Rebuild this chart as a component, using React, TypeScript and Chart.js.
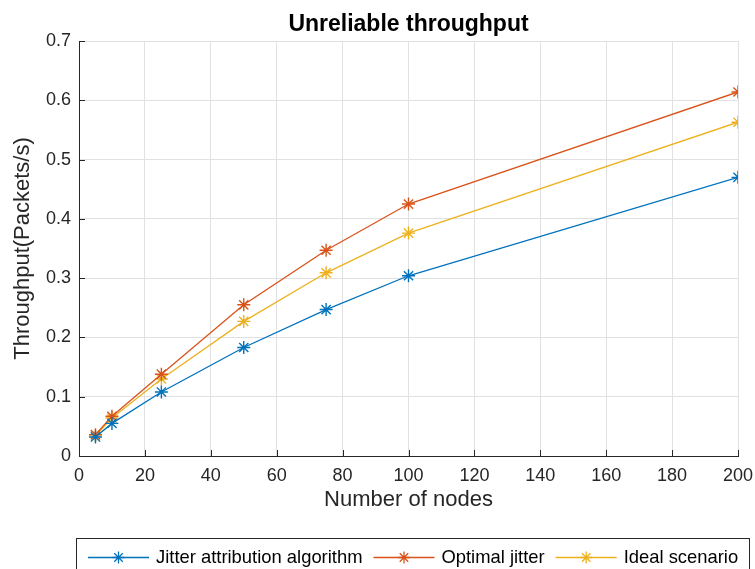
import React, { useEffect, useRef } from "react";
import { Chart, registerables } from "chart.js";

Chart.register(...registerables);

const nodeCounts = [5, 10, 25, 50, 75, 100, 200];
const jitterAttribution = [0.032, 0.055, 0.108, 0.183, 0.247, 0.304, 0.47];
const optimalJitter = [0.036, 0.067, 0.138, 0.255, 0.347, 0.425, 0.614];
const idealScenario = [0.034, 0.064, 0.13, 0.227, 0.309, 0.376, 0.563];
const seriesLabels = ["Jitter attribution algorithm", "Optimal jitter", "Ideal scenario"];
const seriesColors = ["#0072BD", "#D95319", "#EDB120"];
const xTickValues = [0, 20, 40, 60, 80, 100, 120, 140, 160, 180, 200];
const yTickValues = [0, 0.1, 0.2, 0.3, 0.4, 0.5, 0.6, 0.7];

const FONT = "'Liberation Sans', Arial, Helvetica, sans-serif";
const AXIS_COLOR = "#262626";

function drawStar(ctx: CanvasRenderingContext2D, x: number, y: number, r: number, color: string, lw: number) {
  ctx.save();
  ctx.strokeStyle = color;
  ctx.lineWidth = lw;
  ctx.beginPath();
  ctx.moveTo(x, y - r);
  ctx.lineTo(x, y + r);
  ctx.moveTo(x - r, y);
  ctx.lineTo(x + r, y);
  const d = r * Math.SQRT1_2;
  ctx.moveTo(x - d, y - d);
  ctx.lineTo(x + d, y + d);
  ctx.moveTo(x - d, y + d);
  ctx.lineTo(x + d, y - d);
  ctx.stroke();
  ctx.restore();
}

const matlabPlugin = {
  id: "matlabDecor",
  afterDraw(chart: any) {
    const ctx: CanvasRenderingContext2D = chart.ctx;
    const { left, bottom } = chart.chartArea;
    const xs = chart.scales.x;
    const ys = chart.scales.y;
    // inward tick marks
    ctx.save();
    ctx.strokeStyle = AXIS_COLOR;
    ctx.lineWidth = 1;
    ctx.beginPath();
    xTickValues.forEach((v) => {
      const px = Math.round(xs.getPixelForValue(v)) + 0.5;
      ctx.moveTo(px, bottom);
      ctx.lineTo(px, bottom - 6);
    });
    yTickValues.forEach((v) => {
      const py = Math.round(ys.getPixelForValue(v)) + 0.5;
      ctx.moveTo(left, py);
      ctx.lineTo(left + 6, py);
    });
    ctx.stroke();
    ctx.restore();

    // legend
    ctx.save();
    const boxLeft = 76.5;
    const boxRight = 749.5;
    const boxTop = 538.5;
    ctx.strokeStyle = AXIS_COLOR;
    ctx.lineWidth = 1;
    ctx.strokeRect(boxLeft, boxTop, boxRight - boxLeft, 60);
    ctx.font = `18.4px ${FONT}`;
    ctx.textBaseline = "middle";
    const cy = 557.5;
    let x = 88;
    seriesLabels.forEach((label, i) => {
      const color = seriesColors[i];
      ctx.strokeStyle = color;
      ctx.lineWidth = 1.3;
      ctx.beginPath();
      ctx.moveTo(x, cy);
      ctx.lineTo(x + 61, cy);
      ctx.stroke();
      drawStar(ctx, x + 30.5, cy, 6, color, 1.3);
      x += 61 + 7;
      ctx.fillStyle = "#000000";
      ctx.fillText(label, x, cy);
      x += ctx.measureText(label).width + 11;
    });
    ctx.restore();
  },
};

export default function App() {
  const canvasRef = useRef<HTMLCanvasElement | null>(null);

  useEffect(() => {
    const canvas = canvasRef.current;
    if (!canvas) return;
    const seriesData = [jitterAttribution, optimalJitter, idealScenario];
    const chart = new Chart(canvas, {
      type: "line",
      data: {
        datasets: seriesData.map((vals, i) => ({
          label: seriesLabels[i],
          data: nodeCounts.map((n, j) => ({ x: n, y: vals[j] })),
          borderColor: seriesColors[i],
          backgroundColor: seriesColors[i],
          borderWidth: 1.3,
          pointStyle: "star",
          pointRadius: 6.5,
          pointBorderWidth: 1.4,
          pointBorderColor: seriesColors[i],
          pointHoverRadius: 6.5,
          tension: 0,
          fill: false,
        })),
      },
      options: {
        responsive: false,
        animation: false,
        layout: { padding: { left: 0, right: 17, top: 0, bottom: 43 } },
        plugins: {
          legend: { display: false },
          tooltip: { enabled: false },
          title: {
            display: true,
            text: "Unreliable throughput",
            fullSize: false,
            color: "#000000",
            font: { family: FONT, size: 23, weight: "bold", lineHeight: 1.2 },
            padding: { top: 11, bottom: 2.4 },
          },
        },
        scales: {
          x: {
            type: "linear",
            min: 0,
            max: 200,
            afterBuildTicks: (scale: any) => {
              scale.ticks = xTickValues.map((v) => ({ value: v }));
            },
            afterFit: (scale: any) => {
              scale.height = 70;
              scale.paddingLeft = 0;
              scale.paddingRight = 0;
            },
            ticks: {
              color: AXIS_COLOR,
              font: { family: FONT, size: 18 },
              padding: 9,
              maxRotation: 0,
              autoSkip: false,
            },
            grid: { color: "#e1e1e1", drawTicks: false, lineWidth: 1 },
            border: { display: true, color: AXIS_COLOR, width: 1 },
            title: {
              display: true,
              text: "Number of nodes",
              color: AXIS_COLOR,
              font: { family: FONT, size: 22, lineHeight: 1.2 },
              padding: { top: 0, bottom: 13.3 },
            },
          },
          y: {
            type: "linear",
            min: 0,
            max: 0.7,
            afterBuildTicks: (scale: any) => {
              scale.ticks = yTickValues.map((v) => ({ value: v }));
            },
            afterFit: (scale: any) => {
              scale.width = 79;
              scale.paddingTop = 0;
              scale.paddingBottom = 0;
            },
            ticks: {
              color: AXIS_COLOR,
              font: { family: FONT, size: 18 },
              padding: 8,
              callback: (v: any) => (Number(v) === 0 ? "0" : Number(v).toFixed(1)),
            },
            grid: { color: "#e1e1e1", drawTicks: false, lineWidth: 1 },
            border: { display: true, color: AXIS_COLOR, width: 1 },
            title: {
              display: true,
              text: "Throughput(Packets/s)",
              color: AXIS_COLOR,
              font: { family: FONT, size: 22, lineHeight: 1.2 },
              padding: { top: 9.3, bottom: 0 },
            },
          },
        },
      },
      plugins: [matlabPlugin],
    } as any);
    return () => chart.destroy();
  }, []);

  return (
    <div style={{ position: "fixed", left: 0, top: 0, width: 755, height: 569, background: "#ffffff" }}>
      <canvas ref={canvasRef} width={755} height={569} style={{ display: "block" }} />
    </div>
  );
}
